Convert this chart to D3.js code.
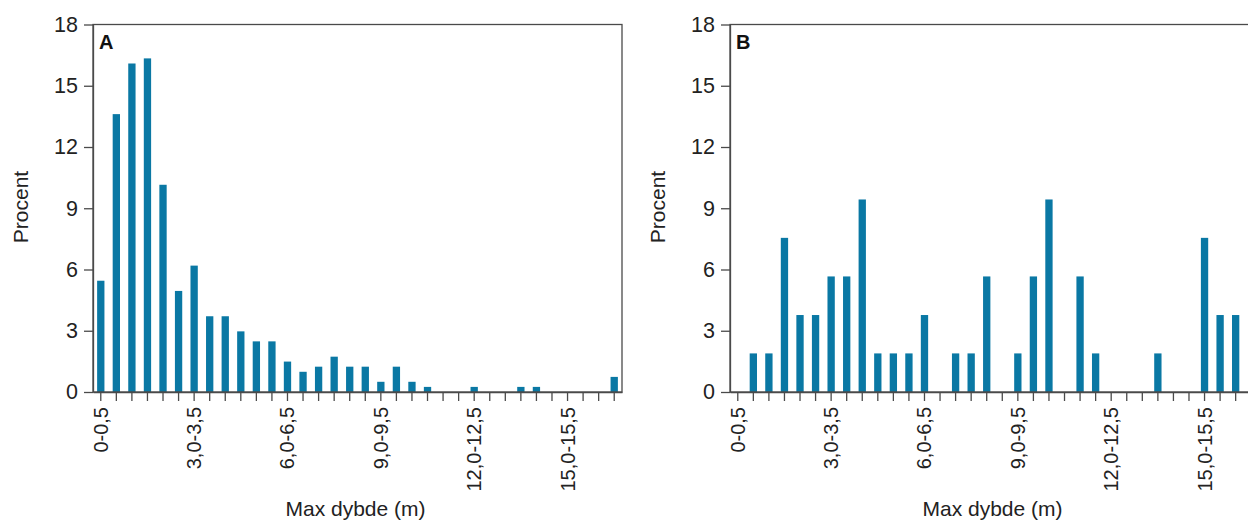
<!DOCTYPE html>
<html>
<head>
<meta charset="utf-8">
<script src="https://cdn.jsdelivr.net/npm/d3@7"></script>
<style>
  html, body { margin: 0; padding: 0; background: #fff; }
  svg { display: block; font-family: "Liberation Sans", Arial, Helvetica, sans-serif; }
</style>
</head>
<body>
<svg id="chart" width="1248" height="523"></svg>
<script>
// Depth classes (m)
const categories = [
  "0-0,5", "0,5-1,0", "1,0-1,5", "1,5-2,0", "2,0-2,5", "2,5-3,0",
  "3,0-3,5", "3,5-4,0", "4,0-4,5", "4,5-5,0", "5,0-5,5", "5,5-6,0",
  "6,0-6,5", "6,5-7,0", "7,0-7,5", "7,5-8,0", "8,0-8,5", "8,5-9,0",
  "9,0-9,5", "9,5-10,0", "10,0-10,5", "10,5-11,0", "11,0-11,5", "11,5-12,0",
  "12,0-12,5", "12,5-13,0", "13,0-13,5", "13,5-14,0", "14,0-14,5", "14,5-15,0",
  "15,0-15,5", "15,5-16,0", "16,0-16,5", "16,5-17,0"
];

// Labelled classes on the x axis
const tickLabels = ["0-0,5", "3,0-3,5", "6,0-6,5", "9,0-9,5", "12,0-12,5", "15,0-15,5"];

// Share of lakes per depth class (%)
const valuesA = [
  5.45, 13.61, 16.09, 16.34, 10.15, 4.95,
  6.19, 3.71, 3.71, 2.97, 2.48, 2.48,
  1.49, 0.99, 1.24, 1.73, 1.24, 1.24,
  0.50, 1.24, 0.50, 0.25, 0, 0,
  0.25, 0, 0, 0.25, 0.25, 0,
  0, 0, 0, 0.74
];

const valuesB = [
  0, 1.89, 1.89, 7.55, 3.77, 3.77,
  5.66, 5.66, 9.43, 1.89, 1.89, 1.89,
  3.77, 0, 1.89, 1.89, 5.66, 0,
  1.89, 5.66, 9.43, 0, 5.66, 1.89,
  0, 0, 0, 1.89, 0, 0,
  7.55, 3.77, 3.77, 0
];

const yTicks = [0, 3, 6, 9, 12, 15, 18];

const panels = [
  { letter: "A", values: valuesA, left: 93 },
  { letter: "B", values: valuesB, left: 730 }
];

const svg = d3.select("#chart");
const plotW = 529, plotTop = 24.5, plotBottom = 392;
const barColor = "#0a78a4";
const lineColor = "#4a4a4a";
const textColor = "#222";

panels.forEach(p => {
  const x = d3.scaleBand().domain(categories).range([p.left, p.left + plotW]).padding(0);
  const y = d3.scaleLinear().domain([0, 18]).range([plotBottom, plotTop]);
  const g = svg.append("g");
  const bw = x.bandwidth() * 0.47;

  // bars
  g.selectAll("rect.bar")
    .data(categories.map((c, i) => ({ c, v: p.values[i] })).filter(d => d.v > 0))
    .join("rect")
    .attr("class", "bar")
    .attr("x", d => x(d.c) + (x.bandwidth() - bw) / 2)
    .attr("width", bw)
    .attr("y", d => y(d.v))
    .attr("height", d => y(0) - y(d.v))
    .attr("fill", barColor);

  // frame
  g.append("rect")
    .attr("x", p.left).attr("y", plotTop)
    .attr("width", plotW).attr("height", plotBottom - plotTop)
    .attr("fill", "none").attr("stroke", lineColor).attr("stroke-width", 1.3);

  // y axis
  const yAxis = d3.axisLeft(y).tickValues(yTicks).tickSize(9).tickPadding(6).tickSizeOuter(0);
  const ya = g.append("g").attr("transform", `translate(${p.left},0)`).call(yAxis);
  ya.select(".domain").attr("stroke", lineColor).attr("stroke-width", 1.3);
  ya.selectAll(".tick line").attr("stroke", lineColor).attr("stroke-width", 1.3);
  ya.selectAll(".tick text").attr("fill", textColor).style("font-size", "21.5px")
    .attr("font-family", "Liberation Sans, Arial, sans-serif");

  // x axis
  const xAxis = d3.axisBottom(x).tickSize(9).tickSizeOuter(0)
    .tickFormat(d => tickLabels.includes(d) ? d : "");
  const xa = g.append("g").attr("transform", `translate(0,${plotBottom})`).call(xAxis);
  xa.select(".domain").attr("stroke", lineColor).attr("stroke-width", 1.3);
  xa.selectAll(".tick line").attr("stroke", lineColor).attr("stroke-width", 1.3);
  xa.selectAll(".tick text")
    .attr("fill", textColor).style("font-size", "20px")
    .attr("font-family", "Liberation Sans, Arial, sans-serif")
    .attr("text-anchor", "end")
    .attr("transform", "rotate(-90)")
    .attr("x", -15).attr("y", 0).attr("dy", "0.35em");

  // panel letter
  g.append("text")
    .attr("x", p.left + 6).attr("y", plotTop + 24)
    .attr("font-weight", "bold").attr("font-size", "20px")
    .attr("fill", "#111").text(p.letter);

  // axis titles
  g.append("text")
    .attr("x", p.left + plotW / 2 - 2).attr("y", 516)
    .attr("text-anchor", "middle").attr("font-size", "21px")
    .attr("fill", textColor).text("Max dybde (m)");

  g.append("text")
    .attr("transform", `translate(${p.left - 65},${207}) rotate(-90)`)
    .attr("text-anchor", "middle").attr("font-size", "21px")
    .attr("fill", textColor).text("Procent");
});
</script>
</body>
</html>
